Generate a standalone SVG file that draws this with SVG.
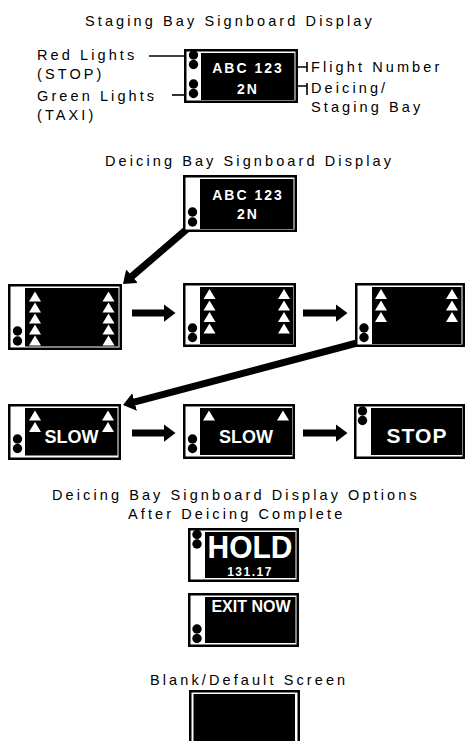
<svg xmlns="http://www.w3.org/2000/svg" width="466" height="741" viewBox="0 0 466 741">
<style>
.frame{fill:#fff;stroke:#000;stroke-width:2.5}
.disp{fill:#000}
.lamp{fill:#000}
.tri{fill:#fff}
.ttl{font-family:"Liberation Sans",Arial,sans-serif;font-size:14.5px;letter-spacing:3.1px;fill:#000}
.sb{font-family:"Liberation Sans",Arial,sans-serif;font-weight:bold;fill:#fff;text-anchor:middle}
.s14{font-size:14px;letter-spacing:2px}
.lead{fill:none;stroke:#000;stroke-width:1.6}
.arr{fill:none;stroke:#000;stroke-width:7;marker-end:url(#ah)}
</style>
<defs>
<marker id="ah" markerUnits="userSpaceOnUse" viewBox="0 0 12 18" markerWidth="12" markerHeight="18" refX="0.5" refY="9" orient="auto"><path d="M0,0 L12,9 L0,18 z" fill="#000"/></marker>
<path id="tri" d="M0,0 L6,10 L-6,10 z"/>
</defs>
<rect width="466" height="741" fill="#fff"/>

<g id="titles">
<text class="ttl" x="85" y="26">Staging Bay Signboard Display</text>
<text class="ttl" x="105" y="166">Deicing Bay Signboard Display</text>
<text class="ttl" x="52" y="500">Deicing Bay Signboard Display Options</text>
<text class="ttl" x="128" y="519">After Deicing Complete</text>
<text class="ttl" x="150" y="685">Blank/Default Screen</text>
</g>

<g id="labels">
<text class="ttl" x="37" y="60">Red Lights</text>
<text class="ttl" x="37" y="79">(STOP)</text>
<text class="ttl" x="37" y="101">Green Lights</text>
<text class="ttl" x="37" y="120">(TAXI)</text>
<text class="ttl" x="311" y="72">Flight Number</text>
<text class="ttl" x="311" y="93">Deicing/</text>
<text class="ttl" x="311" y="112">Staging Bay</text>
</g>

<g id="connectors">
<path class="lead" d="M149,56 H186"/>
<path class="lead" d="M172,95 H186"/>
<path class="lead" d="M297,67 H307 M307,62 V72"/>
<path class="lead" d="M297,86 H307 M307,83 V95"/>
<path class="arr" d="M187,229 L131.7,276.5"/>
<path class="arr" d="M132,313 H164"/>
<path class="arr" d="M303,313 H336"/>
<path class="arr" d="M357,343 L134.1,402.1"/>
<path class="arr" d="M132,433 H164"/>
<path class="arr" d="M303,433 H336"/>
</g>

<g id="staging-sign">
<rect class="frame" x="185.25" y="50.25" width="111.5" height="51.5"/>
<rect class="disp" x="201" y="53" width="93.5" height="47"/>
<circle class="lamp" cx="193.5" cy="55" r="4.7"/>
<circle class="lamp" cx="193.5" cy="64.5" r="4.7"/>
<circle class="lamp" cx="193.5" cy="84" r="4.7"/>
<circle class="lamp" cx="193.5" cy="93.5" r="4.7"/>
<text class="sb s14" x="248" y="73">ABC 123</text>
<text class="sb s14" x="248" y="94">2N</text>
</g>

<g id="deicing-sign-flight">
<rect class="frame" x="184.25" y="176.25" width="111.5" height="54.5"/>
<rect class="disp" x="200" y="179" width="93.5" height="50"/>
<circle class="lamp" cx="192.5" cy="212" r="4.7"/>
<circle class="lamp" cx="192.5" cy="222" r="4.7"/>
<text class="sb s14" x="248" y="200">ABC 123</text>
<text class="sb s14" x="248" y="219">2N</text>
</g>

<g id="deicing-sign-5">
<rect class="frame" x="9.25" y="285.25" width="111.5" height="63.5"/>
<rect class="disp" x="25" y="288" width="93.5" height="58.5"/>
<circle class="lamp" cx="17.5" cy="331" r="4.7"/>
<circle class="lamp" cx="17.5" cy="341" r="4.7"/>
<use href="#tri" class="tri" x="35" y="291.5"/><use href="#tri" class="tri" x="35" y="302.5"/><use href="#tri" class="tri" x="35" y="313.5"/><use href="#tri" class="tri" x="35" y="324.5"/><use href="#tri" class="tri" x="35" y="335.5"/>
<use href="#tri" class="tri" x="108.5" y="291.5"/><use href="#tri" class="tri" x="108.5" y="302.5"/><use href="#tri" class="tri" x="108.5" y="313.5"/><use href="#tri" class="tri" x="108.5" y="324.5"/><use href="#tri" class="tri" x="108.5" y="335.5"/>
</g>

<g id="deicing-sign-4">
<rect class="frame" x="184.25" y="284.25" width="110.5" height="61.5"/>
<rect class="disp" x="200" y="287" width="93" height="57"/>
<circle class="lamp" cx="192.5" cy="328" r="4.7"/>
<circle class="lamp" cx="192.5" cy="337.5" r="4.7"/>
<use href="#tri" class="tri" x="209.5" y="289"/><use href="#tri" class="tri" x="209.5" y="300.5"/><use href="#tri" class="tri" x="209.5" y="312"/><use href="#tri" class="tri" x="209.5" y="323.5"/>
<use href="#tri" class="tri" x="284" y="289"/><use href="#tri" class="tri" x="284" y="300.5"/><use href="#tri" class="tri" x="284" y="312"/><use href="#tri" class="tri" x="284" y="323.5"/>
</g>

<g id="deicing-sign-3">
<rect class="frame" x="356.25" y="284.25" width="107.5" height="61.5"/>
<rect class="disp" x="372" y="287" width="89.5" height="57"/>
<circle class="lamp" cx="364" cy="328" r="4.7"/>
<circle class="lamp" cx="364" cy="337.5" r="4.7"/>
<use href="#tri" class="tri" x="381" y="289"/><use href="#tri" class="tri" x="381" y="300.5"/><use href="#tri" class="tri" x="381" y="312"/>
<use href="#tri" class="tri" x="452" y="289"/><use href="#tri" class="tri" x="452" y="300.5"/><use href="#tri" class="tri" x="452" y="312"/>
</g>

<g id="deicing-sign-slow2">
<rect class="frame" x="9.25" y="405.25" width="110.5" height="53.5"/>
<rect class="disp" x="25" y="408" width="92.5" height="47.5"/>
<circle class="lamp" cx="17.5" cy="439" r="4.7"/>
<circle class="lamp" cx="17.5" cy="448.5" r="4.7"/>
<use href="#tri" class="tri" x="35" y="410.5"/><use href="#tri" class="tri" x="35" y="422"/>
<use href="#tri" class="tri" x="108" y="410.5"/><use href="#tri" class="tri" x="108" y="422"/>
<text class="sb" x="71.5" y="443" font-size="18">SLOW</text>
</g>

<g id="deicing-sign-slow1">
<rect class="frame" x="184.25" y="405.25" width="109.5" height="52.5"/>
<rect class="disp" x="200" y="408" width="92" height="47"/>
<circle class="lamp" cx="192.5" cy="439" r="4.7"/>
<circle class="lamp" cx="192.5" cy="448.5" r="4.7"/>
<use href="#tri" class="tri" x="209" y="410.5"/>
<use href="#tri" class="tri" x="283" y="410.5"/>
<text class="sb" x="246" y="443" font-size="18">SLOW</text>
</g>

<g id="deicing-sign-stop">
<rect class="frame" x="355.25" y="405.25" width="108.5" height="52.5"/>
<rect class="disp" x="371" y="408" width="91" height="47"/>
<circle class="lamp" cx="362.5" cy="411" r="4.7"/>
<circle class="lamp" cx="362.5" cy="420.5" r="4.7"/>
<text class="sb" x="417" y="443" font-size="21" letter-spacing="1">STOP</text>
</g>

<g id="option-hold">
<rect class="frame" x="189.25" y="529.25" width="108.5" height="51.5"/>
<rect class="disp" x="205" y="532" width="90.5" height="46"/>
<circle class="lamp" cx="197" cy="534.5" r="4.7"/>
<circle class="lamp" cx="197" cy="544" r="4.7"/>
<text class="sb" x="250" y="558" font-size="31" textLength="85" lengthAdjust="spacingAndGlyphs">HOLD</text>
<text class="sb" x="250" y="576" font-size="12" letter-spacing="1.5">131.17</text>
</g>

<g id="option-exit">
<rect class="frame" x="189.25" y="594.25" width="108.5" height="51.5"/>
<rect class="disp" x="205" y="597" width="90.5" height="46"/>
<circle class="lamp" cx="197" cy="629" r="4.7"/>
<circle class="lamp" cx="197" cy="638.5" r="4.7"/>
<text class="sb" x="251" y="612" font-size="16">EXIT NOW</text>
</g>

<g id="blank-screen">
<rect class="frame" x="190.25" y="691.25" width="108.5" height="60"/>
<rect class="disp" x="193.5" y="694" width="101.5" height="50"/>
</g>
</svg>
